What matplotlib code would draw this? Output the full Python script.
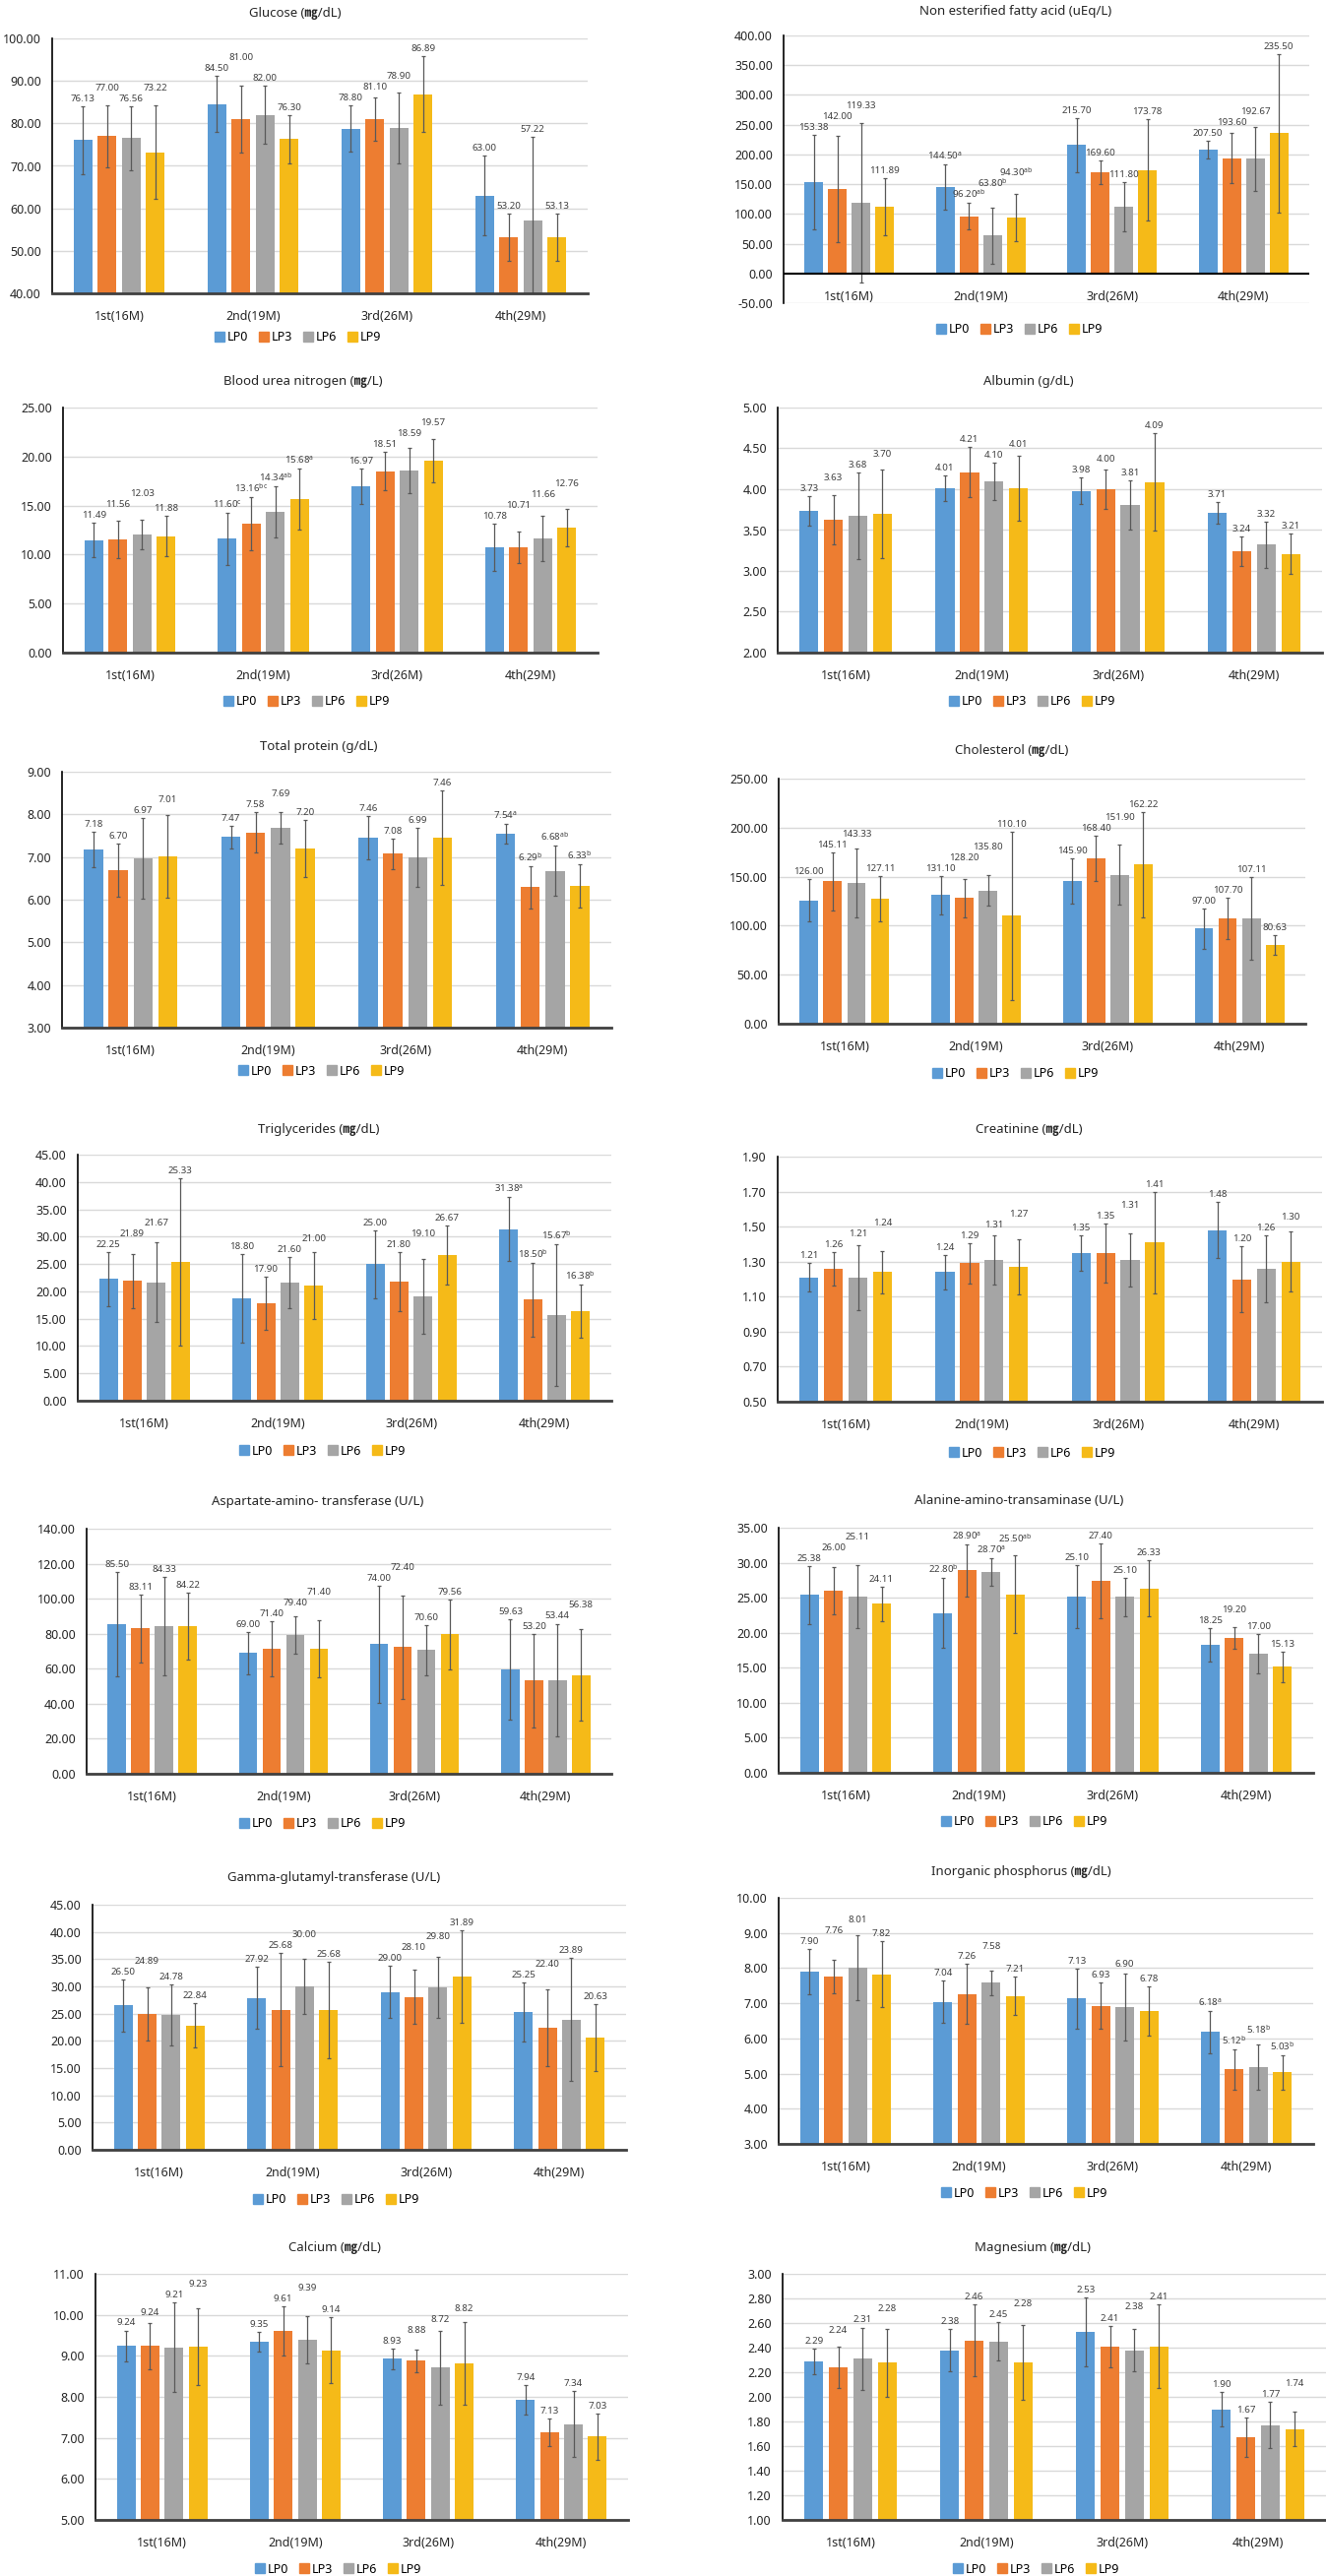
import matplotlib
matplotlib.use('Agg')
import matplotlib.pyplot as plt
from matplotlib.lines import Line2D
import numpy as np

plt.rcParams['font.family'] = ['Noto Sans', 'Noto Sans CJK KR', 'DejaVu Sans']
plt.rcParams['mathtext.default'] = 'regular'

# --- данные ---
periods = ['1st(16M)', '2nd(19M)', '3rd(26M)', '4th(29M)']
groups = ['LP0', 'LP3', 'LP6', 'LP9']
colors = ['#5B9BD5', '#ED7D31', '#A5A5A5', '#F5BA18']

# rows = LP0, LP3, LP6, LP9 ; columns = periods
glucose_mean = [[76.13, 84.50, 78.80, 63.00],
                [77.00, 81.00, 81.10, 53.20],
                [76.56, 82.00, 78.90, 57.22],
                [73.22, 76.30, 86.89, 53.13]]
glucose_sd = [[8.0, 6.6, 5.4, 9.4],
              [7.3, 7.8, 5.1, 5.5],
              [7.5, 6.8, 8.3, 19.6],
              [11.0, 5.7, 9.0, 5.6]]

nefa_mean = [[153.38, 144.50, 215.70, 207.50],
             [142.00, 96.20, 169.60, 193.60],
             [119.33, 63.80, 111.80, 192.67],
             [111.89, 94.30, 173.78, 235.50]]
nefa_sd = [[79, 38, 46, 15],
           [90, 22, 20, 42],
           [134, 47, 41, 54],
           [48, 40, 85, 133]]
nefa_sup = [['', 'a', '', ''], ['', 'ab', '', ''], ['', 'b', '', ''], ['', 'ab', '', '']]

bun_mean = [[11.49, 11.60, 16.97, 10.78],
            [11.56, 13.16, 18.51, 10.71],
            [12.03, 14.34, 18.59, 11.66],
            [11.88, 15.68, 19.57, 12.76]]
bun_sd = [[1.8, 2.7, 1.8, 2.4],
          [1.9, 2.75, 1.95, 1.6],
          [1.5, 2.6, 2.3, 2.3],
          [2.05, 3.1, 2.2, 1.9]]
bun_sup = [['', 'c', '', ''], ['', 'bc', '', ''], ['', 'ab', '', ''], ['', 'a', '', '']]

albumin_mean = [[3.73, 4.01, 3.98, 3.71],
                [3.63, 4.21, 4.00, 3.24],
                [3.68, 4.10, 3.81, 3.32],
                [3.70, 4.01, 4.09, 3.21]]
albumin_sd = [[0.18, 0.155, 0.16, 0.13],
              [0.30, 0.31, 0.245, 0.18],
              [0.53, 0.23, 0.30, 0.28],
              [0.54, 0.40, 0.60, 0.25]]

tp_mean = [[7.18, 7.47, 7.46, 7.54],
           [6.70, 7.58, 7.08, 6.29],
           [6.97, 7.69, 6.99, 6.68],
           [7.01, 7.20, 7.46, 6.33]]
tp_sd = [[0.41, 0.27, 0.51, 0.235],
         [0.62, 0.48, 0.36, 0.49],
         [0.94, 0.37, 0.70, 0.59],
         [0.97, 0.67, 1.11, 0.51]]
tp_sup = [['', '', '', 'a'], ['', '', '', 'b'], ['', '', '', 'ab'], ['', '', '', 'b']]

chol_mean = [[126.00, 131.10, 145.90, 97.00],
             [145.11, 128.20, 168.40, 107.70],
             [143.33, 135.80, 151.90, 107.11],
             [127.11, 110.10, 162.22, 80.63]]
chol_sd = [[22, 20, 23, 20.7],
           [30, 19.5, 23, 21.3],
           [35, 15.8, 30.6, 42],
           [23, 86, 53.5, 10]]

trig_mean = [[22.25, 18.80, 25.00, 31.38],
             [21.89, 17.90, 21.80, 18.50],
             [21.67, 21.60, 19.10, 15.67],
             [25.33, 21.00, 26.67, 16.38]]
trig_sd = [[4.9, 8.1, 6.2, 5.8],
           [5.0, 4.85, 5.45, 6.75],
           [7.3, 4.6, 6.85, 13.0],
           [15.3, 6.1, 5.35, 4.85]]
trig_sup = [['', '', '', 'a'], ['', '', '', 'b'], ['', '', '', 'b'], ['', '', '', 'b']]

creat_mean = [[1.21, 1.24, 1.35, 1.48],
              [1.26, 1.29, 1.35, 1.20],
              [1.21, 1.31, 1.31, 1.26],
              [1.24, 1.27, 1.41, 1.30]]
creat_sd = [[0.08, 0.10, 0.10, 0.16],
            [0.095, 0.115, 0.17, 0.19],
            [0.185, 0.14, 0.15, 0.19],
            [0.12, 0.155, 0.29, 0.17]]

ast_mean = [[85.50, 69.00, 74.00, 59.63],
            [83.11, 71.40, 72.40, 53.20],
            [84.33, 79.40, 70.60, 53.44],
            [84.22, 71.40, 79.56, 56.38]]
ast_sd = [[30, 12, 33.5, 28.7],
          [19.5, 15.7, 29.6, 26.5],
          [28, 10.8, 14.2, 32],
          [19, 16.4, 20, 26]]

alt_mean = [[25.38, 22.80, 25.10, 18.25],
            [26.00, 28.90, 27.40, 19.20],
            [25.11, 28.70, 25.10, 17.00],
            [24.11, 25.50, 26.33, 15.13]]
alt_sd = [[4.2, 5.0, 4.5, 2.4],
          [3.35, 3.75, 5.4, 1.55],
          [4.5, 1.95, 2.7, 2.8],
          [2.5, 5.55, 4.0, 2.2]]
alt_sup = [['', 'b', '', ''], ['', 'a', '', ''], ['', 'a', '', ''], ['', 'ab', '', '']]

ggt_mean = [[26.50, 27.92, 29.00, 25.25],
            [24.89, 25.68, 28.10, 22.40],
            [24.78, 30.00, 29.80, 23.89],
            [22.84, 25.68, 31.89, 20.63]]
ggt_sd = [[4.75, 5.7, 4.85, 5.45],
          [4.9, 10.4, 5.05, 7.0],
          [5.6, 5.0, 5.6, 11.3],
          [4.1, 8.8, 8.5, 6.1]]

ip_mean = [[7.90, 7.04, 7.13, 6.18],
           [7.76, 7.26, 6.93, 5.12],
           [8.01, 7.58, 6.90, 5.18],
           [7.82, 7.21, 6.78, 5.03]]
ip_sd = [[0.65, 0.6, 0.85, 0.61],
         [0.485, 0.85, 0.66, 0.575],
         [0.92, 0.34, 0.955, 0.645],
         [0.935, 0.55, 0.7, 0.485]]
ip_sup = [['', '', '', 'a'], ['', '', '', 'b'], ['', '', '', 'b'], ['', '', '', 'b']]

ca_mean = [[9.24, 9.35, 8.93, 7.94],
           [9.24, 9.61, 8.88, 7.13],
           [9.21, 9.39, 8.72, 7.34],
           [9.23, 9.14, 8.82, 7.03]]
ca_sd = [[0.38, 0.24, 0.25, 0.36],
         [0.56, 0.59, 0.27, 0.335],
         [1.09, 0.575, 0.9, 0.8],
         [0.94, 0.81, 1.01, 0.57]]

mg_mean = [[2.29, 2.38, 2.53, 1.90],
           [2.24, 2.46, 2.41, 1.67],
           [2.31, 2.45, 2.38, 1.77],
           [2.28, 2.28, 2.41, 1.74]]
mg_sd = [[0.104, 0.175, 0.278, 0.143],
         [0.168, 0.29, 0.17, 0.16],
         [0.25, 0.157, 0.175, 0.188],
         [0.276, 0.304, 0.34, 0.141]]

# --- размеры ---
W, H = 1347, 2617
fig = plt.figure(figsize=(W / 100, H / 100), dpi=100)


def draw_panel(title, mean, sd, sup, ymin, ymax, step, rect, title_xy, legend_xy, inside=False):
    l, t, r, b = rect
    ax = fig.add_axes([l / W, 1 - b / H, (r - l) / W, (b - t) / H])
    x = np.arange(len(periods))
    per_px = (ymax - ymin) / (b - t)
    lab_h = 11 * per_px   # высота подписи в единицах данных
    pad = 3 * per_px

    for k in range(len(groups)):
        xs = x + (k - 1.5) * 0.18
        ax.bar(xs, mean[k], 0.14, color=colors[k], yerr=sd[k], zorder=2,
               error_kw=dict(ecolor='#595959', elinewidth=0.9, capsize=1.5, capthick=0.9))

    # подписи значений, соседние разносим по высоте
    for i in range(len(periods)):
        prev = None
        for k in range(len(groups)):
            xk = i + (k - 1.5) * 0.18
            y = mean[k][i] + sd[k][i] + pad
            if prev is not None and abs(y - prev) < lab_h:
                y = prev + lab_h
            prev = y
            s = f'{mean[k][i]:.2f}'
            if sup and sup[k][i]:
                s += '$^{' + sup[k][i] + '}$'
            ax.text(xk, y, s, ha='center', va='bottom', fontsize=7,
                    color='#404040', zorder=4)

    ax.set_xlim(-0.5, 3.5)
    ax.set_ylim(ymin, ymax)
    ticks = np.arange(ymin, ymax + step / 2, step)
    ax.set_yticks(ticks)
    ax.set_yticklabels([f'{v:.2f}' for v in ticks], fontsize=9, fontweight='bold', color='#262626')
    ax.yaxis.grid(True, color='#D9D9D9', lw=1.0)
    ax.set_axisbelow(True)
    ax.tick_params(axis='both', length=0)
    ax.tick_params(axis='y', pad=8)

    for side in ['top', 'right']:
        ax.spines[side].set_visible(False)
    ax.spines['left'].set_color('black')
    ax.spines['left'].set_linewidth(1.2)

    if inside:
        # подписи категорий внутри, ось на нуле
        ax.spines['bottom'].set_visible(False)
        ax.axhline(0, color='black', lw=1.5, zorder=3)
        ax.set_xticks([])
        for i, p in enumerate(periods):
            ax.text(i, ymin + 0.2 * step, p, ha='center', va='center',
                    fontsize=9, fontweight='bold', color='#262626')
    else:
        ax.spines['bottom'].set_color('#404040')
        ax.spines['bottom'].set_linewidth(2)
        ax.set_xticks(x)
        ax.set_xticklabels(periods, fontsize=9, fontweight='bold', color='#262626')
        ax.tick_params(axis='x', pad=12)

    fig.text(title_xy[0] / W, 1 - title_xy[1] / H, title, ha='center', va='center',
             fontsize=9.5, fontweight='bold', color='#262626')

    handles = [Line2D([0], [0], marker='s', color='none', markerfacecolor=c,
                      markeredgecolor=c, markersize=7, label=g) for c, g in zip(colors, groups)]
    fig.legend(handles=handles, loc='center', ncol=4, frameon=False, fontsize=9,
               bbox_to_anchor=(legend_xy[0] / W, 1 - legend_xy[1] / H),
               handletextpad=0.1, columnspacing=0.8, handlelength=1.0)
    return ax


draw_panel('Glucose (㎎/dL)', glucose_mean, glucose_sd, None, 40, 100, 10,
           (53, 39, 597, 298), (300, 14), (302, 343))
draw_panel('Non esterified fatty acid (uEq/L)', nefa_mean, nefa_sd, nefa_sup, -50, 400, 50,
           (796, 36, 1330, 308), (1032, 11), (1035, 335), inside=True)
draw_panel('Blood urea nitrogen (㎎/L)', bun_mean, bun_sd, bun_sup, 0, 25, 5,
           (64, 414, 607, 663), (308, 387), (311, 713))
draw_panel('Albumin (g/dL)', albumin_mean, albumin_sd, None, 2.0, 5.0, 0.5,
           (790, 414, 1343, 663), (1045, 387), (1048, 713))
draw_panel('Total protein (g/dL)', tp_mean, tp_sd, tp_sup, 3, 9, 1,
           (63, 784, 621, 1044), (324, 758), (326, 1088))
draw_panel('Cholesterol (㎎/dL)', chol_mean, chol_sd, None, 0, 250, 50,
           (791, 791, 1326, 1040), (1028, 763), (1031, 1091))
draw_panel('Triglycerides (㎎/dL)', trig_mean, trig_sd, trig_sup, 0, 45, 5,
           (79, 1173, 621, 1423), (324, 1147), (327, 1474))
draw_panel('Creatinine (㎎/dL)', creat_mean, creat_sd, None, 0.5, 1.9, 0.2,
           (790, 1175, 1343, 1424), (1045, 1148), (1048, 1476))
draw_panel('Aspartate-amino- transferase (U/L)', ast_mean, ast_sd, None, 0, 140, 20,
           (88, 1553, 621, 1802), (323, 1526), (327, 1853))
draw_panel('Alanine-amino-transaminase (U/L)', alt_mean, alt_sd, alt_sup, 0, 35, 5,
           (791, 1552, 1334, 1801), (1035, 1525), (1040, 1851))
draw_panel('Gamma-glutamyl-transferase (U/L)', ggt_mean, ggt_sd, None, 0, 45, 5,
           (94, 1935, 636, 2184), (339, 1908), (341, 2235))
draw_panel('Inorganic phosphorus (㎎/dL)', ip_mean, ip_sd, ip_sup, 3, 10, 1,
           (791, 1928, 1334, 2178), (1037, 1902), (1040, 2228))
draw_panel('Calcium (㎎/dL)', ca_mean, ca_sd, None, 5, 11, 1,
           (97, 2310, 638, 2560), (340, 2283), (343, 2610))
draw_panel('Magnesium (㎎/dL)', mg_mean, mg_sd, None, 1.0, 3.0, 0.2,
           (795, 2310, 1347, 2560), (1049, 2283), (1052, 2610))

fig.savefig('out.png', dpi=100, facecolor='white')
